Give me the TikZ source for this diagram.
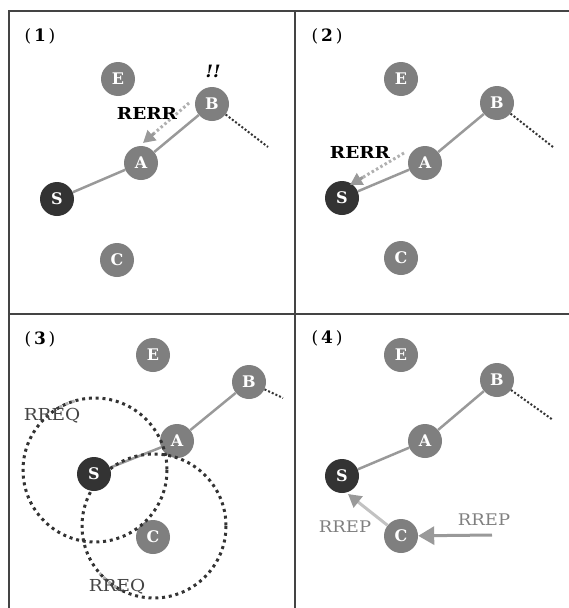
\documentclass[tikz,border=0pt]{standalone}
\usepackage{fontspec}
\setmainfont{DejaVu Serif}
\newfontfamily\widefont[FakeStretch=1.12]{DejaVu Serif}
\usetikzlibrary{arrows.meta,calc}
\definecolor{frame}{HTML}{444444}
\definecolor{nodegray}{HTML}{7F7F7F}
\definecolor{sdark}{HTML}{333333}
\definecolor{linkgray}{HTML}{999999}
\definecolor{msglight}{HTML}{B0B0B0}
\definecolor{arrowgray}{HTML}{999999}
\definecolor{dotdark}{HTML}{333333}
\tikzset{
  host/.style={circle,fill=nodegray,text=white,minimum size=34pt,inner sep=0pt,font=\fontsize{16}{16}\selectfont\bfseries},
  src/.style={host,fill=sdark},
  link/.style={draw=linkgray,line width=2.5pt},
  tail/.style={draw=dotdark,line width=2pt,dash pattern=on 2pt off 2pt},
  ring/.style={draw=dotdark,line width=3pt,dash pattern=on 3pt off 3.8pt},
  ringlight/.style={draw=msglight,line width=3pt,dash pattern=on 3pt off 3.8pt},
  errmsg/.style={draw=msglight,line width=3pt,dash pattern=on 2.5pt off 2.5pt},
  tip/.style={draw=arrowgray,line width=3pt,-{Triangle[length=12pt,width=13pt,color=arrowgray]}},
  lbl/.style={font=\widefont\fontsize{16.5}{16.5}\selectfont\bfseries},
  plbl/.style={font=\fontsize{17}{17}\selectfont},
  rreq/.style={font=\widefont\fontsize{16.5}{16.5}\selectfont,text=frame},
  rrep/.style={font=\widefont\fontsize{16}{16}\selectfont,text=nodegray},
}
\begin{document}
\begin{tikzpicture}[x=1pt,y=-1pt]
\useasboundingbox (0,0) rectangle (568,608);
% frame
\draw[frame,line width=2pt] (9,610) -- (9,11) -- (570,11);
\draw[frame,line width=2pt] (295,11) -- (295,610);
\draw[frame,line width=2pt] (9,314) -- (570,314);

% ---------- panel 1
\node[plbl] (p1) at (40,36) {(\,\textbf{1}\,)};
\node[host] (E1) at (118,79) {E};
\node[host] (B1) at (212,104) {B};
\node[host] (A1) at (141,163) {A};
\node[src]  (S1) at (57,199) {S};
\node[host] (C1) at (117,260) {C};
\coordinate (T1) at (268,147);
\draw[link] (S1) -- (A1);
\draw[link] (A1) -- (B1);
\draw[tail] (B1) -- (T1);
\coordinate (r1s) at (189,103);
\coordinate (r1e) at (143,143);
\draw[errmsg] (r1s) -- ($(r1s)!0.78!(r1e)$);
\draw[tip] ($(r1s)!0.76!(r1e)$) -- (r1e);
\node[lbl] (rerr1) at (147,113) {RERR};
\node[font=\fontsize{17}{17}\selectfont\bfseries\itshape] (bang) at (213,71) {!!};

% ---------- panel 2
\node[plbl] (p2) at (327,36) {(\,\textbf{2}\,)};
\node[host] (E2) at (401,79) {E};
\node[host] (B2) at (497,103) {B};
\node[host] (A2) at (425,163) {A};
\node[src]  (S2) at (342,198) {S};
\node[host] (C2) at (401,258) {C};
\coordinate (T2) at (553,147);
\draw[link] (S2) -- (A2);
\draw[link] (A2) -- (B2);
\draw[tail] (B2) -- (T2);
\coordinate (r2s) at (404,153);
\coordinate (r2e) at (350,185);
\draw[errmsg] (r2s) -- ($(r2s)!0.78!(r2e)$);
\draw[tip] ($(r2s)!0.76!(r2e)$) -- (r2e);
\node[lbl] (rerr2) at (360,152) {RERR};

% ---------- panel 3
\node[plbl] (p3) at (40,339) {(\,\textbf{3}\,)};
\node[host] (E3) at (153,355) {E};
\node[host] (B3) at (249,382) {B};
\node[host] (A3) at (177,441) {A};
\node[src]  (S3) at (94,474) {S};
\node[host] (C3) at (153,537) {C};
\coordinate (T3) at (283,398);
\draw[link] (S3) -- (A3);
\draw[link] (A3) -- (B3);
\draw[tail] (B3) -- (T3);
\coordinate (K1) at (95,470);
\coordinate (K2) at (154,526);
\draw[ring] (K1) circle[radius=72];
\draw[ring] (K2) circle[radius=72];
\draw[ringlight] ($(K1)+(-125:72)$) arc[start angle=-125,end angle=-106,radius=72];
\draw[ringlight] ($(K2)+(116:72)$) arc[start angle=116,end angle=139,radius=72];
\node[rreq] (q1) at (52,416) {RREQ};
\node[rreq] (q2) at (117,587) {RREQ};

% ---------- panel 4
\node[plbl] (p4) at (327,338) {(\,\textbf{4}\,)};
\node[host] (E4) at (401,355) {E};
\node[host] (B4) at (497,380) {B};
\node[host] (A4) at (425,441) {A};
\node[src]  (S4) at (342,476) {S};
\node[host] (C4) at (401,536) {C};
\coordinate (T4) at (553,420);
\draw[link] (S4) -- (A4);
\draw[link] (A4) -- (B4);
\draw[tail] (B4) -- (T4);
\coordinate (pe1) at (348,494);
\draw[line width=3pt,draw=arrowgray!60,-{Triangle[length=13pt,width=14pt,color=arrowgray]}] (C4) -- (pe1);
\coordinate (ps2) at (492,535);
\draw[line width=3pt,draw=arrowgray,-{Triangle[length=16pt,width=18pt,color=arrowgray]}] (ps2) -- (C4);
\node[rrep] (rp1) at (345,527) {RREP};
\node[rrep] (rp2) at (484,520) {RREP};
\end{tikzpicture}
\end{document}
